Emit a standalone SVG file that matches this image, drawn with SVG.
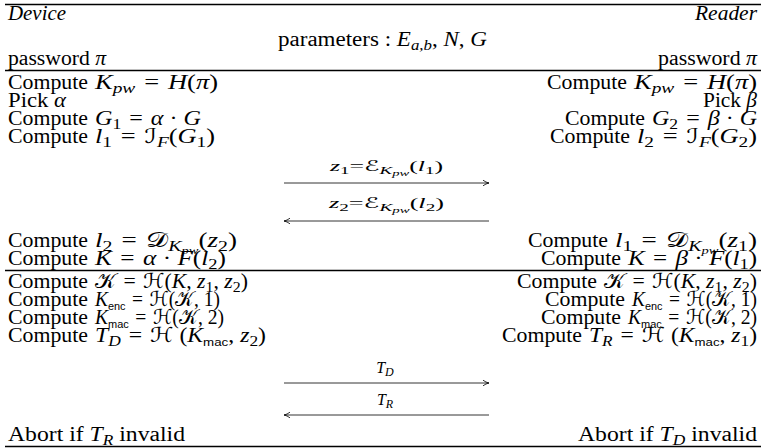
<svg xmlns="http://www.w3.org/2000/svg" width="765" height="448" viewBox="0 0 765 448">
<defs>
<style>
.t{font-family:"Liberation Serif","DejaVu Serif",serif;font-size:20.5px;fill:#000}
.r{text-anchor:end}
.m{text-anchor:middle}
.i{font-style:italic}
.s{font-size:15px}
.ss{font-size:11px}
.sss{font-size:8.5px}
.lb{font-size:16px}
.lbs{font-size:12px}
.sf{font-family:"Liberation Sans","DejaVu Sans",sans-serif;font-size:11.5px}
.cal{font-family:"DejaVu Sans","DejaVu Serif",serif;font-style:normal}
.rule{stroke:#000;stroke-width:1.4}
.arr{stroke:#000;stroke-width:0.8;fill:none}
</style>
<marker id="ah" viewBox="0 0 8 8" refX="7.5" refY="4" markerWidth="8" markerHeight="8" markerUnits="userSpaceOnUse" orient="auto">
<path d="M1.5,1.2 Q4.5,3.4 7.5,4 Q4.5,4.6 1.5,6.8" fill="none" stroke="#000" stroke-width="0.8"/>
</marker>
</defs>
<rect width="765" height="448" fill="#fff"/>

<g id="rules">
<line class="rule" x1="5" y1="4.5" x2="761" y2="4.5"/>
<line class="rule" x1="5" y1="70.5" x2="761" y2="70.5"/>
<line class="rule" x1="5" y1="270.5" x2="761" y2="270.5"/>
<line class="rule" x1="5" y1="446.5" x2="761" y2="446.5"/>
</g>

<g id="params">
<text class="t m" x="382.5" y="46" textLength="209" lengthAdjust="spacingAndGlyphs">parameters : <tspan class="i">E</tspan><tspan class="s i" dy="4">a,b</tspan><tspan dy="-4">, </tspan><tspan class="i">N</tspan>, <tspan class="i">G</tspan></text>
</g>

<g id="device">
<text class="t i" x="8" y="20" textLength="58" lengthAdjust="spacingAndGlyphs">Device</text>
<text class="t" x="8" y="65" textLength="98" lengthAdjust="spacingAndGlyphs">password <tspan class="i">π</tspan></text>
<g id="d-kpw"><text class="t" x="8" y="89" textLength="80" lengthAdjust="spacingAndGlyphs">Compute</text><text class="t" x="95" y="89" textLength="123" lengthAdjust="spacingAndGlyphs"><tspan class="i">K</tspan><tspan class="s i" dy="4">pw</tspan><tspan dy="-4">&#8196;=&#8196;</tspan><tspan class="i">H</tspan>(<tspan class="i">π</tspan>)</text></g>
<text class="t" x="8" y="107" textLength="58" lengthAdjust="spacingAndGlyphs">Pick <tspan class="i">α</tspan></text>
<g id="d-g1"><text class="t" x="8" y="125" textLength="80" lengthAdjust="spacingAndGlyphs">Compute</text><text class="t" x="95" y="125" textLength="106" lengthAdjust="spacingAndGlyphs"><tspan class="i">G</tspan><tspan class="s" dy="4">1</tspan><tspan dy="-4">&#8196;=&#8196;</tspan><tspan class="i">α</tspan> · <tspan class="i">G</tspan></text></g>
<g id="d-l1"><text class="t" x="8" y="143" textLength="80" lengthAdjust="spacingAndGlyphs">Compute</text><text class="t" x="95" y="143" textLength="120" lengthAdjust="spacingAndGlyphs"><tspan class="i">l</tspan><tspan class="s" dy="4">1</tspan><tspan dy="-4">&#8196;=&#8196;</tspan><tspan class="cal">ℐ</tspan><tspan class="s i" dy="4">F</tspan><tspan dy="-4">(</tspan><tspan class="i">G</tspan><tspan class="s" dy="4">1</tspan><tspan dy="-4">)</tspan></text></g>
<g id="d-l2"><text class="t" x="8" y="247" textLength="80" lengthAdjust="spacingAndGlyphs">Compute</text><text class="t" x="95" y="247" textLength="142" lengthAdjust="spacingAndGlyphs"><tspan class="i">l</tspan><tspan class="s" dy="4">2</tspan><tspan dy="-4">&#8196;=&#8196;</tspan><tspan class="cal">𝒟</tspan><tspan class="s i" dy="4">K</tspan><tspan class="ss i" dy="3">pw</tspan><tspan dy="-7">(</tspan><tspan class="i">z</tspan><tspan class="s" dy="4">2</tspan><tspan dy="-4">)</tspan></text></g>
<g id="d-k"><text class="t" x="8" y="265" textLength="80" lengthAdjust="spacingAndGlyphs">Compute</text><text class="t" x="95" y="265" textLength="131" lengthAdjust="spacingAndGlyphs"><tspan class="i">K</tspan>&#8196;=&#8196;<tspan class="i">α</tspan> · <tspan class="i">F</tspan>(<tspan class="i">l</tspan><tspan class="s" dy="4">2</tspan><tspan dy="-4">)</tspan></text></g>
<g id="d-kk"><text class="t" x="8" y="288" textLength="80" lengthAdjust="spacingAndGlyphs">Compute</text><text class="t" x="95" y="288" textLength="153" lengthAdjust="spacingAndGlyphs"><tspan class="cal">𝒦</tspan>&#8196;=&#8196;<tspan class="cal">ℋ</tspan>(<tspan class="i">K</tspan>, <tspan class="i">z</tspan><tspan class="s" dy="4">1</tspan><tspan dy="-4">, </tspan><tspan class="i">z</tspan><tspan class="s" dy="4">2</tspan><tspan dy="-4">)</tspan></text></g>
<g id="d-kenc"><text class="t" x="8" y="306" textLength="80" lengthAdjust="spacingAndGlyphs">Compute</text><text class="t" x="95" y="306" textLength="125" lengthAdjust="spacingAndGlyphs"><tspan class="i">K</tspan><tspan class="sf" dy="4">enc</tspan><tspan dy="-4">&#8196;=&#8196;</tspan><tspan class="cal">ℋ</tspan>(<tspan class="cal">𝒦</tspan>, 1)</text></g>
<g id="d-kmac"><text class="t" x="8" y="324" textLength="80" lengthAdjust="spacingAndGlyphs">Compute</text><text class="t" x="95" y="324" textLength="129" lengthAdjust="spacingAndGlyphs"><tspan class="i">K</tspan><tspan class="sf" dy="4">mac</tspan><tspan dy="-4">&#8196;=&#8196;</tspan><tspan class="cal">ℋ</tspan>(<tspan class="cal">𝒦</tspan>, 2)</text></g>
<g id="d-td"><text class="t" x="8" y="342" textLength="80" lengthAdjust="spacingAndGlyphs">Compute</text><text class="t" x="95" y="342" textLength="171" lengthAdjust="spacingAndGlyphs"><tspan class="i">T</tspan><tspan class="s i" dy="4">D</tspan><tspan dy="-4">&#8196;=&#8196;</tspan><tspan class="cal">ℋ</tspan> (<tspan class="i">K</tspan><tspan class="sf" dy="4">mac</tspan><tspan dy="-4">, </tspan><tspan class="i">z</tspan><tspan class="s" dy="4">2</tspan><tspan dy="-4">)</tspan></text></g>
<text class="t" x="8" y="441" textLength="177" lengthAdjust="spacingAndGlyphs">Abort if <tspan class="i">T</tspan><tspan class="s i" dy="4">R</tspan><tspan dy="-4"> invalid</tspan></text>
</g>

<g id="reader">
<text class="t i r" x="757" y="20" textLength="62" lengthAdjust="spacingAndGlyphs">Reader</text>
<text class="t r" x="757" y="65" textLength="99" lengthAdjust="spacingAndGlyphs">password <tspan class="i">π</tspan></text>
<g id="r-kpw"><text class="t" x="547" y="89" textLength="80" lengthAdjust="spacingAndGlyphs">Compute</text><text class="t r" x="757" y="89" textLength="123" lengthAdjust="spacingAndGlyphs"><tspan class="i">K</tspan><tspan class="s i" dy="4">pw</tspan><tspan dy="-4">&#8196;=&#8196;</tspan><tspan class="i">H</tspan>(<tspan class="i">π</tspan>)</text></g>
<text class="t r" x="757" y="107" textLength="54" lengthAdjust="spacingAndGlyphs">Pick <tspan class="i">β</tspan></text>
<g id="r-g2"><text class="t" x="565" y="125" textLength="80" lengthAdjust="spacingAndGlyphs">Compute</text><text class="t r" x="757" y="125" textLength="105" lengthAdjust="spacingAndGlyphs"><tspan class="i">G</tspan><tspan class="s" dy="4">2</tspan><tspan dy="-4">&#8196;=&#8196;</tspan><tspan class="i">β</tspan> · <tspan class="i">G</tspan></text></g>
<g id="r-l2"><text class="t" x="550" y="143" textLength="80" lengthAdjust="spacingAndGlyphs">Compute</text><text class="t r" x="757" y="143" textLength="120" lengthAdjust="spacingAndGlyphs"><tspan class="i">l</tspan><tspan class="s" dy="4">2</tspan><tspan dy="-4">&#8196;=&#8196;</tspan><tspan class="cal">ℐ</tspan><tspan class="s i" dy="4">F</tspan><tspan dy="-4">(</tspan><tspan class="i">G</tspan><tspan class="s" dy="4">2</tspan><tspan dy="-4">)</tspan></text></g>
<g id="r-l1"><text class="t" x="528" y="247" textLength="80" lengthAdjust="spacingAndGlyphs">Compute</text><text class="t r" x="757" y="247" textLength="142" lengthAdjust="spacingAndGlyphs"><tspan class="i">l</tspan><tspan class="s" dy="4">1</tspan><tspan dy="-4">&#8196;=&#8196;</tspan><tspan class="cal">𝒟</tspan><tspan class="s i" dy="4">K</tspan><tspan class="ss i" dy="3">pw</tspan><tspan dy="-7">(</tspan><tspan class="i">z</tspan><tspan class="s" dy="4">1</tspan><tspan dy="-4">)</tspan></text></g>
<g id="r-k"><text class="t" x="541" y="265" textLength="80" lengthAdjust="spacingAndGlyphs">Compute</text><text class="t r" x="757" y="265" textLength="129" lengthAdjust="spacingAndGlyphs"><tspan class="i">K</tspan>&#8196;=&#8196;<tspan class="i">β</tspan> · <tspan class="i">F</tspan>(<tspan class="i">l</tspan><tspan class="s" dy="4">1</tspan><tspan dy="-4">)</tspan></text></g>
<g id="r-kk"><text class="t" x="517" y="288" textLength="80" lengthAdjust="spacingAndGlyphs">Compute</text><text class="t r" x="757" y="288" textLength="153" lengthAdjust="spacingAndGlyphs"><tspan class="cal">𝒦</tspan>&#8196;=&#8196;<tspan class="cal">ℋ</tspan>(<tspan class="i">K</tspan>, <tspan class="i">z</tspan><tspan class="s" dy="4">1</tspan><tspan dy="-4">, </tspan><tspan class="i">z</tspan><tspan class="s" dy="4">2</tspan><tspan dy="-4">)</tspan></text></g>
<g id="r-kenc"><text class="t" x="545" y="306" textLength="80" lengthAdjust="spacingAndGlyphs">Compute</text><text class="t r" x="757" y="306" textLength="125" lengthAdjust="spacingAndGlyphs"><tspan class="i">K</tspan><tspan class="sf" dy="4">enc</tspan><tspan dy="-4">&#8196;=&#8196;</tspan><tspan class="cal">ℋ</tspan>(<tspan class="cal">𝒦</tspan>, 1)</text></g>
<g id="r-kmac"><text class="t" x="541" y="324" textLength="80" lengthAdjust="spacingAndGlyphs">Compute</text><text class="t r" x="757" y="324" textLength="129" lengthAdjust="spacingAndGlyphs"><tspan class="i">K</tspan><tspan class="sf" dy="4">mac</tspan><tspan dy="-4">&#8196;=&#8196;</tspan><tspan class="cal">ℋ</tspan>(<tspan class="cal">𝒦</tspan>, 2)</text></g>
<g id="r-tr"><text class="t" x="502" y="342" textLength="80" lengthAdjust="spacingAndGlyphs">Compute</text><text class="t r" x="757" y="342" textLength="168" lengthAdjust="spacingAndGlyphs"><tspan class="i">T</tspan><tspan class="s i" dy="4">R</tspan><tspan dy="-4">&#8196;=&#8196;</tspan><tspan class="cal">ℋ</tspan> (<tspan class="i">K</tspan><tspan class="sf" dy="4">mac</tspan><tspan dy="-4">, </tspan><tspan class="i">z</tspan><tspan class="s" dy="4">1</tspan><tspan dy="-4">)</tspan></text></g>
<text class="t r" x="757" y="441" textLength="179" lengthAdjust="spacingAndGlyphs">Abort if <tspan class="i">T</tspan><tspan class="s i" dy="4">D</tspan><tspan dy="-4"> invalid</tspan></text>
</g>

<g id="connectors">
<line class="arr" x1="284" y1="183" x2="489" y2="183" marker-end="url(#ah)"/>
<line class="arr" x1="489" y1="221" x2="284" y2="221" marker-end="url(#ah)"/>
<line class="arr" x1="284" y1="383" x2="489" y2="383" marker-end="url(#ah)"/>
<line class="arr" x1="489" y1="415" x2="284" y2="415" marker-end="url(#ah)"/>
<text class="t m s" x="386.5" y="171" textLength="113" lengthAdjust="spacingAndGlyphs"><tspan class="i">z</tspan><tspan class="ss" dy="3">1</tspan><tspan dy="-3">=</tspan><tspan class="cal">ℰ</tspan><tspan class="ss i" dy="3">K</tspan><tspan class="sss i" dy="2">pw</tspan><tspan dy="-5">(</tspan><tspan class="i">l</tspan><tspan class="ss" dy="3">1</tspan><tspan dy="-3">)</tspan></text>
<text class="t m s" x="386.5" y="208" textLength="115" lengthAdjust="spacingAndGlyphs"><tspan class="i">z</tspan><tspan class="ss" dy="3">2</tspan><tspan dy="-3">=</tspan><tspan class="cal">ℰ</tspan><tspan class="ss i" dy="3">K</tspan><tspan class="sss i" dy="2">pw</tspan><tspan dy="-5">(</tspan><tspan class="i">l</tspan><tspan class="ss" dy="3">2</tspan><tspan dy="-3">)</tspan></text>
<text class="t m lb" x="385" y="373"><tspan class="i">T</tspan><tspan class="lbs i" dy="3">D</tspan></text>
<text class="t m lb" x="385" y="405"><tspan class="i">T</tspan><tspan class="lbs i" dy="3">R</tspan></text>
</g>
</svg>
